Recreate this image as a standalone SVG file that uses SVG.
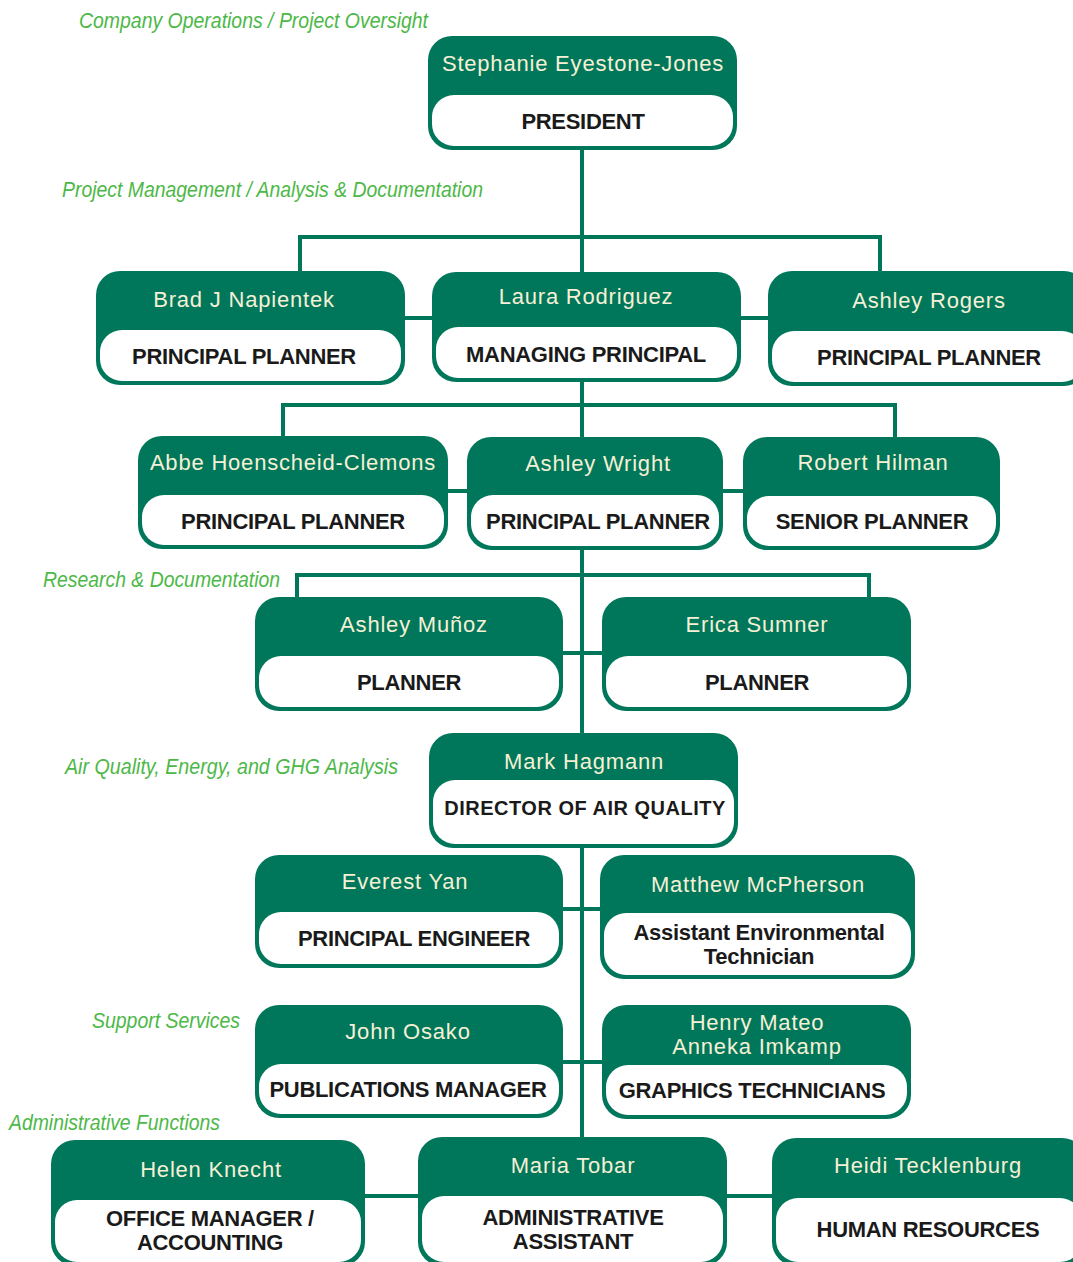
<svg xmlns="http://www.w3.org/2000/svg" width="1073" height="1262" viewBox="0 0 1073 1262">
<style>
.box{fill:#00775a}
.inner{fill:#ffffff}
.name{font-family:"Liberation Sans",Arial,sans-serif;font-size:22px;fill:#f6f0d6;text-anchor:middle;letter-spacing:0.8px}
.role{font-family:"Liberation Sans",Arial,sans-serif;font-size:22px;font-weight:bold;fill:#1a1a1a;text-anchor:middle;letter-spacing:-0.3px}
.lbl{font-family:"Liberation Sans",Arial,sans-serif;font-size:22px;font-style:italic;fill:#4db848}
.conn{stroke:#00775a;stroke-width:4;fill:none;stroke-linecap:square}
</style>
<rect width="1073" height="1262" fill="#ffffff"/>

<g id="labels">
<text class="lbl" x="79" y="28" textLength="349" lengthAdjust="spacingAndGlyphs">Company Operations / Project Oversight</text>
<text class="lbl" x="62" y="197" textLength="421" lengthAdjust="spacingAndGlyphs">Project Management / Analysis &amp; Documentation</text>
<text class="lbl" x="43" y="587" textLength="237" lengthAdjust="spacingAndGlyphs">Research &amp; Documentation</text>
<text class="lbl" x="65" y="774" textLength="333" lengthAdjust="spacingAndGlyphs">Air Quality, Energy, and GHG Analysis</text>
<text class="lbl" x="92" y="1028" textLength="148" lengthAdjust="spacingAndGlyphs">Support Services</text>
<text class="lbl" x="9" y="1130" textLength="211" lengthAdjust="spacingAndGlyphs">Administrative Functions</text>
</g>

<g id="connectors">
<path class="conn" d="M582 150 V1137"/>
<path class="conn" d="M300 271 V237 H880 V271"/>
<path class="conn" d="M405 318 H432 M741 318 H768"/>
<path class="conn" d="M283 436 V405 H895 V437"/>
<path class="conn" d="M448 491 H467 M723 491 H743"/>
<path class="conn" d="M297 597 V575 H869 V597"/>
<path class="conn" d="M563 653 H602"/>
<path class="conn" d="M563 909 H600"/>
<path class="conn" d="M563 1062 H602"/>
<path class="conn" d="M365 1196 H418 M727 1196 H772"/>
</g>

<g id="n-president">
<rect class="box" x="428" y="36" width="309" height="114" rx="24"/>
<rect class="inner" x="432" y="95" width="301" height="51" rx="22"/>
<text class="name" x="583" y="71">Stephanie Eyestone-Jones</text>
<text class="role" x="583" y="129">PRESIDENT</text>
</g>

<g id="n-brad">
<rect class="box" x="96" y="271" width="309" height="114" rx="24"/>
<rect class="inner" x="100" y="330" width="301" height="51" rx="22"/>
<text class="name" x="244" y="307">Brad J Napientek</text>
<text class="role" x="244" y="364">PRINCIPAL PLANNER</text>
</g>

<g id="n-laura">
<rect class="box" x="432" y="272" width="309" height="110" rx="24"/>
<rect class="inner" x="436" y="327" width="301" height="51" rx="22"/>
<text class="name" x="586" y="304">Laura Rodriguez</text>
<text class="role" x="586" y="362">MANAGING PRINCIPAL</text>
</g>

<g id="n-ashley-rogers">
<rect class="box" x="768" y="271" width="320" height="115" rx="24"/>
<rect class="inner" x="772" y="331" width="312" height="51" rx="22"/>
<text class="name" x="929" y="308">Ashley Rogers</text>
<text class="role" x="929" y="365">PRINCIPAL PLANNER</text>
</g>

<g id="n-abbe">
<rect class="box" x="138" y="436" width="310" height="113" rx="24"/>
<rect class="inner" x="142" y="495" width="302" height="50" rx="22"/>
<text class="name" x="293" y="470">Abbe Hoenscheid-Clemons</text>
<text class="role" x="293" y="529">PRINCIPAL PLANNER</text>
</g>

<g id="n-ashley-wright">
<rect class="box" x="467" y="437" width="256" height="113" rx="24"/>
<rect class="inner" x="471" y="495" width="248" height="51" rx="22"/>
<text class="name" x="598" y="471">Ashley Wright</text>
<text class="role" x="598" y="529">PRINCIPAL PLANNER</text>
</g>

<g id="n-robert">
<rect class="box" x="743" y="437" width="257" height="113" rx="24"/>
<rect class="inner" x="747" y="496" width="249" height="50" rx="22"/>
<text class="name" x="873" y="470">Robert Hilman</text>
<text class="role" x="872" y="529">SENIOR PLANNER</text>
</g>

<g id="n-munoz">
<rect class="box" x="255" y="597" width="308" height="114" rx="24"/>
<rect class="inner" x="259" y="656" width="300" height="51" rx="22"/>
<text class="name" x="414" y="632">Ashley Muñoz</text>
<text class="role" x="409" y="690">PLANNER</text>
</g>

<g id="n-erica">
<rect class="box" x="602" y="597" width="309" height="114" rx="24"/>
<rect class="inner" x="606" y="656" width="301" height="51" rx="22"/>
<text class="name" x="757" y="632">Erica Sumner</text>
<text class="role" x="757" y="690">PLANNER</text>
</g>

<g id="n-mark">
<rect class="box" x="429" y="733" width="309" height="115" rx="24"/>
<rect class="inner" x="433" y="780" width="301" height="64" rx="22"/>
<text class="name" x="584" y="769">Mark Hagmann</text>
<text class="role" x="585" y="815" style="font-size:20px;letter-spacing:0.5px">DIRECTOR OF AIR QUALITY</text>
</g>

<g id="n-everest">
<rect class="box" x="255" y="855" width="308" height="113" rx="24"/>
<rect class="inner" x="259" y="912" width="300" height="52" rx="22"/>
<text class="name" x="405" y="889">Everest Yan</text>
<text class="role" x="414" y="946">PRINCIPAL ENGINEER</text>
</g>

<g id="n-matthew">
<rect class="box" x="600" y="855" width="315" height="124" rx="24"/>
<rect class="inner" x="604" y="913" width="307" height="62" rx="22"/>
<text class="name" x="758" y="892">Matthew McPherson</text>
<text class="role" x="759" y="940">Assistant Environmental</text>
<text class="role" x="759" y="964">Technician</text>
</g>

<g id="n-john">
<rect class="box" x="255" y="1005" width="308" height="113" rx="24"/>
<rect class="inner" x="259" y="1064" width="300" height="50" rx="22"/>
<text class="name" x="408" y="1039">John Osako</text>
<text class="role" x="408" y="1097">PUBLICATIONS MANAGER</text>
</g>

<g id="n-graphics">
<rect class="box" x="602" y="1005" width="309" height="114" rx="24"/>
<rect class="inner" x="606" y="1065" width="301" height="50" rx="22"/>
<text class="name" x="757" y="1030">Henry Mateo</text>
<text class="name" x="757" y="1054">Anneka Imkamp</text>
<text class="role" x="752" y="1098">GRAPHICS TECHNICIANS</text>
</g>

<g id="n-helen">
<rect class="box" x="51" y="1140" width="314" height="126" rx="24"/>
<rect class="inner" x="55" y="1200" width="306" height="62" rx="22"/>
<text class="name" x="211" y="1177">Helen Knecht</text>
<text class="role" x="210" y="1226">OFFICE MANAGER /</text>
<text class="role" x="210" y="1250">ACCOUNTING</text>
</g>

<g id="n-maria">
<rect class="box" x="418" y="1137" width="309" height="129" rx="24"/>
<rect class="inner" x="422" y="1196" width="301" height="66" rx="22"/>
<text class="name" x="573" y="1173">Maria Tobar</text>
<text class="role" x="573" y="1225">ADMINISTRATIVE</text>
<text class="role" x="573" y="1249">ASSISTANT</text>
</g>

<g id="n-heidi">
<rect class="box" x="772" y="1138" width="314" height="128" rx="24"/>
<rect class="inner" x="776" y="1198" width="306" height="64" rx="22"/>
<text class="name" x="928" y="1173">Heidi Tecklenburg</text>
<text class="role" x="928" y="1237">HUMAN RESOURCES</text>
</g>
</svg>
